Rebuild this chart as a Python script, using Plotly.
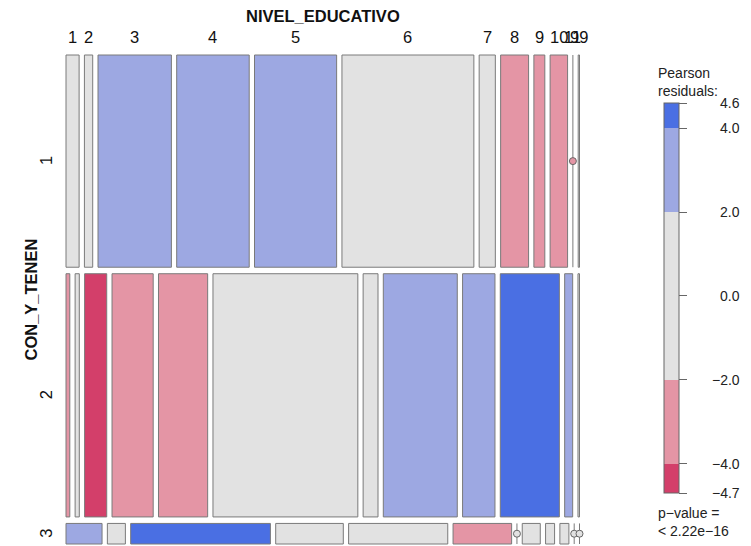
import plotly.graph_objects as go

# ---------------- data ----------------
nivel_labels = ["1", "2", "3", "4", "5", "6", "7", "8", "9", "10", "11", "99"]
con_labels = ["1", "2", "3"]

counts_con1 = [30, 19, 168, 166, 188, 302, 37, 64, 25, 40, 0, 3]
counts_con2 = [10, 11, 58, 108, 129, 380, 39, 194, 85, 155, 21, 4]
counts_con3 = [8, 4, 31, 15, 22, 13, 0, 4, 2, 2, 0, 0]

resid_con1 = [0.8, 1.2, 3.0, 3.2, 2.6, -1.0, -0.5, -3.5, -2.4, -2.6, -3.1, 0.3]
resid_con2 = [-2.2, -1.3, -4.7, -3.1, -2.7, 1.1, 0.4, 3.1, 2.3, 4.3, 2.2, -0.2]
resid_con3 = [2.9, 1.0, 4.6, 0.6, 0.2, -2.3, -1.8, -0.6, 0.1, 0.3, -0.9, -0.5]

legend_ticks = [4.6, 4.0, 2.0, 0.0, -2.0, -4.0, -4.7]
p_value_text = "< 2.22e\u221216"

counts = [counts_con1, counts_con2, counts_con3]
resids = [resid_con1, resid_con2, resid_con3]

# ---------------- geometry (reference pixel coords, page body margin = 8) ----------------
OFF = 8
W, H = 751 - OFF, 546 - OFF
PL, PR = 62, 584          # plot area (reference px)
PT, PB = 51, 546
X0PX, X1PX = 66, 579.5    # mosaic extent (reference px)
Y0PX, Y1PX = 55, 544
CB_TOP, CB_BOT = 103, 493  # colour key extent (reference px)

gx = 5.3 / (X1PX - X0PX)  # column gap in data units
gy = 6.5 / (Y1PX - Y0PX)  # row gap in data units

DR, PK, GR, LB, DB = "#D33F6A", "#E495A5", "#E2E2E2", "#9DA8E2", "#4A6FE3"
vmin, vmax = legend_ticks[-1], legend_ticks[0]


def frac(v):
    return (v - vmin) / (vmax - vmin)


cscale = [[0, DR], [frac(-4), DR], [frac(-4), PK], [frac(-2), PK],
          [frac(-2), GR], [frac(2), GR], [frac(2), LB], [frac(4), LB],
          [frac(4), DB], [1, DB]]


def pxx(px):
    return (px - PL) / (PR - PL)


def pxy(py):
    return (PB - py) / (PB - PT)


N = sum(sum(r) for r in counts)
row_tot = [sum(r) for r in counts]
avail_y = 1 - gy * (len(counts) - 1)
avail_x = 1 - gx * (len(nivel_labels) - 1)

fig = go.Figure()

row_centers = []
top_centers = []
y = 0.0
for ri, (rc, rr) in enumerate(zip(counts, resids)):
    h = avail_y * row_tot[ri] / N
    row_centers.append(y + h / 2)
    xs, ws, cols = [], [], []
    zx, zc = [], []
    x = 0.0
    for ci, (c, r) in enumerate(zip(rc, rr)):
        w = avail_x * c / row_tot[ri]
        if ri == 0:
            top_centers.append(x + w / 2)
        if c > 0:
            xs.append(x + w / 2)
            ws.append(w)
            cols.append(r)
        else:
            zx.append(x)
            zc.append(r)
        x += w + gx
    fig.add_trace(go.Bar(
        x=xs, y=[h] * len(xs), base=[y] * len(xs), width=ws,
        marker=dict(color=cols, colorscale=cscale, cmin=vmin, cmax=vmax,
                    line=dict(color="#7a7a7a", width=1),
                    showscale=(ri == 0),
                    colorbar=dict(
                        x=pxx(664), xanchor="left", xpad=0,
                        y=pxy((CB_TOP + CB_BOT) / 2), yanchor="middle", ypad=0,
                        lenmode="pixels", len=CB_BOT - CB_TOP, thickness=15,
                        outlinecolor="#666", outlinewidth=1,
                        tickvals=legend_ticks,
                        ticks="outside", ticklen=8, tickwidth=1, tickcolor="#666",
                        showticklabels=False,
                        title=dict(text=""),
                    )),
        showlegend=False, hoverinfo="skip"))
    for zxi, zci in zip(zx, zc):
        fig.add_trace(go.Scatter(
            x=[zxi, zxi], y=[y, y + h], mode="lines",
            line=dict(color="#7a7a7a", width=1),
            showlegend=False, hoverinfo="skip"))
        fig.add_trace(go.Scatter(
            x=[zxi], y=[y + h / 2], mode="markers",
            marker=dict(symbol="circle", size=7, color=[zci], colorscale=cscale,
                        cmin=vmin, cmax=vmax, line=dict(color="#666", width=1)),
            showlegend=False, hoverinfo="skip", cliponaxis=False))
    y += h + gy

font = "Liberation Sans, Arial, sans-serif"
ann = []
ann.append(dict(text="<b>NIVEL_EDUCATIVO</b>", xref="paper", yref="paper",
                x=pxx((X0PX + X1PX) / 2), y=pxy(16), xanchor="center", yanchor="middle",
                showarrow=False, font=dict(size=16.5, color="#111", family=font)))
for lab, cx in zip(nivel_labels, top_centers):
    ann.append(dict(text=lab, xref="x", yref="paper", x=cx, y=pxy(37),
                    xanchor="center", yanchor="middle",
                    showarrow=False, font=dict(size=16.5, color="#111", family=font)))
ann.append(dict(text="<b>CON_Y_TENEN</b>", xref="paper", yref="paper",
                x=pxx(30), y=pxy((Y0PX + Y1PX) / 2), textangle=-90,
                xanchor="center", yanchor="middle",
                showarrow=False, font=dict(size=16.5, color="#111", family=font)))
for lab, cy in zip(con_labels, row_centers):
    ann.append(dict(text=lab, xref="paper", yref="y", x=pxx(46), y=cy,
                    textangle=-90, xanchor="center", yanchor="middle", showarrow=False,
                    font=dict(size=16.5, color="#111", family=font)))
for v in legend_ticks:
    py = CB_TOP + (vmax - v) / (vmax - vmin) * (CB_BOT - CB_TOP)
    ann.append(dict(text=f"{v:.1f}".replace("-", "\u2212"), xref="paper", yref="paper",
                    x=pxx(742), y=pxy(py), xanchor="right", yanchor="middle",
                    showarrow=False, font=dict(size=14, color="#222", family=font)))
ann.append(dict(text="Pearson<br>residuals:", xref="paper", yref="paper",
                x=pxx(656), y=pxy(63), xanchor="left", yanchor="top", align="left",
                showarrow=False, font=dict(size=14, color="#222", family=font)))
ann.append(dict(text="p\u2212value =<br>" + p_value_text.replace("<", "&lt;"),
                xref="paper", yref="paper",
                x=pxx(656), y=pxy(503), xanchor="left", yanchor="top", align="left",
                showarrow=False, font=dict(size=14, color="#222", family=font)))

xr = [-(X0PX - PL) / (X1PX - X0PX), 1 + (PR - X1PX) / (X1PX - X0PX)]
yr = [1 + (PB - Y1PX) / (Y1PX - Y0PX), -(Y0PX - PT) / (Y1PX - Y0PX)]

fig.update_layout(
    width=W, height=H, autosize=False,
    margin=dict(l=PL - OFF, r=751 - PR, t=PT - OFF, b=546 - PB, pad=0),
    paper_bgcolor="white", plot_bgcolor="white",
    barmode="overlay",
    xaxis=dict(range=xr, visible=False, fixedrange=True),
    yaxis=dict(range=yr, visible=False, fixedrange=True),
    annotations=ann,
    font=dict(family=font),
)

fig.write_html("out.html")
